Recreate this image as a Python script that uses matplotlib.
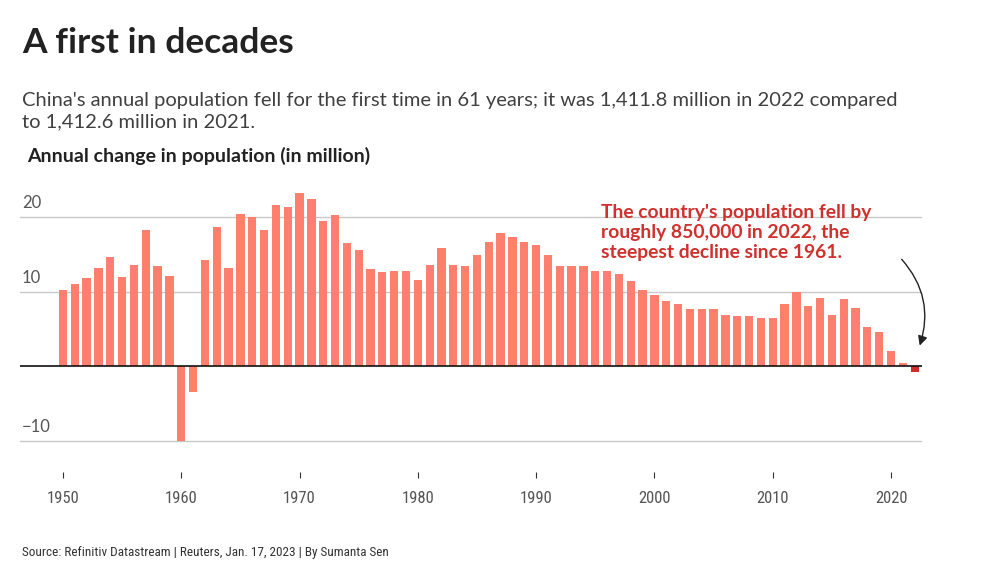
# China annual population change, 1950-2022

import matplotlib
matplotlib.use('Agg')
import matplotlib.pyplot as plt
from matplotlib import font_manager

years = list(range(1950, 2023))
change = [10.25, 11.0, 11.8, 13.1, 14.6, 11.9, 13.6, 18.2, 13.4, 12.1,
          -10.0, -3.5, 14.3, 18.7, 13.2, 20.4, 20.0, 18.2, 21.6, 21.3,
          23.2, 22.4, 19.5, 20.3, 16.5, 15.6, 13.0, 12.6, 12.8, 12.75,
          11.6, 13.6, 15.8, 13.5, 13.4, 14.9, 16.6, 17.9, 17.3, 16.7,
          16.2, 14.9, 13.4, 13.4, 13.4, 12.7, 12.7, 12.4, 11.4, 10.2,
          9.6, 8.8, 8.3, 7.7, 7.6, 7.6, 6.8, 6.75, 6.7, 6.45,
          6.45, 8.3, 10.0, 8.0, 9.2, 6.8, 9.0, 7.8, 5.2, 4.6,
          2.0, 0.45, -0.85]
xticks = [1950, 1960, 1970, 1980, 1990, 2000, 2010, 2020]
yticks = [-10, 10, 20]
ytick_labels = ['\u221210', '10', '20']

bar_color = '#FF7F6F'
last_color = '#D42A2A'
red = '#D0312D'

names = {f.name for f in font_manager.fontManager.ttflist}
narrow = 'Lato'
for cand in ['Liberation Sans Narrow', 'DejaVu Sans Condensed', 'Roboto Condensed']:
    if cand in names:
        narrow = cand
        break
main = 'Lato'

fig = plt.figure(figsize=(9.9, 5.72), dpi=100)
W, H = 990, 572
ax = fig.add_axes([20 / W, 1 - 472 / H, 902 / W, 292.25 / H])

colors = [last_color if y == years[-1] else bar_color for y in years]
ax.bar(years, change, width=0.7, color=colors, zorder=2)

for v, lab in zip(yticks, ytick_labels):
    ax.axhline(v, color='#C8C8C8', lw=1, zorder=1)
    ax.text(0.002, v + 0.8, lab, transform=ax.get_yaxis_transform(),
            ha='left', va='bottom', fontsize=12, color='#555555', family=main)
ax.axhline(0, color='#111111', lw=1.2, zorder=3)

ax.set_xlim(1946.37, 2022.62)
ax.set_ylim(-14.2, 25)
ax.set_yticks([])
ax.set_xticks(xticks)
ax.set_xticklabels([str(x) for x in xticks], family=narrow, fontsize=12, color='#555555')
ax.tick_params(axis='x', length=4.5, width=0.8, color='#333333', pad=9)
for s in ax.spines.values():
    s.set_visible(False)

# arrow to the 2022 bar
ax.annotate('', xy=(years[-1] + 0.35, 2.4), xytext=(2020.75, 14.6),
            arrowprops=dict(arrowstyle='-|>', color='#222222', lw=1,
                            connectionstyle='arc3,rad=-0.3', mutation_scale=14))

# multi-line texts: y is the baseline of the last line
fig.text(601 / W, 1 - 258 / H,
         "The country's population fell by\nroughly 850,000 in 2022, the\nsteepest decline since 1961.",
         fontsize=13.9, fontweight='bold', color=red, family=main, va='baseline',
         linespacing=1.2)

fig.text(22 / W, 1 - 53 / H, 'A first in decades', fontsize=25.5, fontweight='bold',
         color='#222222', family=main, va='baseline')
fig.text(22 / W, 1 - 127 / H,
         "China's annual population fell for the first time in 61 years; it was 1,411.8 million in 2022 compared\n"
         "to 1,412.6 million in 2021.",
         fontsize=14.5, color='#404040', family=main, va='baseline',
         linespacing=1.3)
fig.text(27 / W, 1 - 162 / H, 'Annual change in population (in million)', fontsize=14,
         fontweight='bold', color='#222222', family=main, va='baseline')
fig.text(22 / W, 1 - 556 / H,
         'Source: Refinitiv Datastream | Reuters, Jan. 17, 2023 | By Sumanta Sen',
         fontsize=9.5, color='#333333', family=narrow, va='baseline')

fig.savefig('out.png', dpi=100)
